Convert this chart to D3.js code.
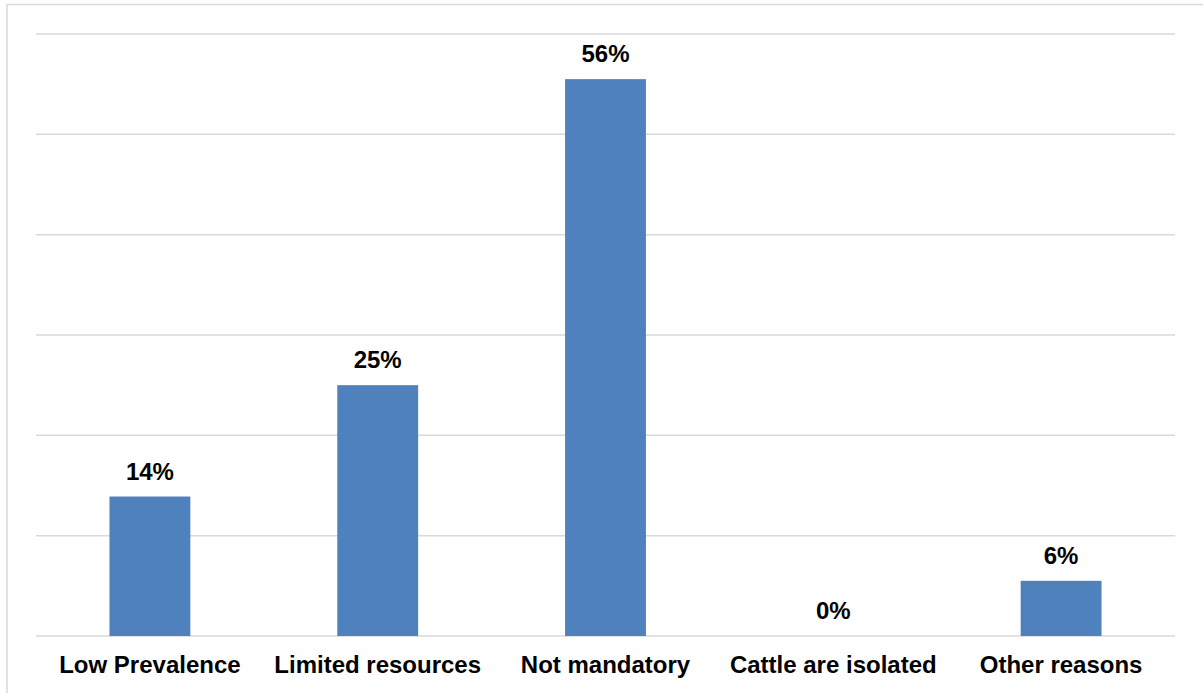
<!DOCTYPE html>
<html lang="en">

<head>
    <meta charset="UTF-8">
    <title>Reasons</title>
    <script src="https://d3js.org/d3.v7.min.js"></script>
    <style>
        body {
            margin: 0;
            background: white;
            font-family: "Liberation Sans", Arial, sans-serif;
        }

        svg {
            display: block;
        }
    </style>
</head>

<body>
    <svg width="1203" height="693"></svg>

    <script>
        // Data
        const categories = ["Low Prevalence", "Limited resources", "Not mandatory", "Cattle are isolated", "Other reasons"];
        const values = [13.9, 25.0, 55.5, 0, 5.5];
        const labels = ["14%", "25%", "56%", "0%", "6%"];
        const yTicks = [0, 10, 20, 30, 40, 50, 60];

        const data = categories.map((c, i) => ({ cat: c, value: values[i], label: labels[i] }));

        const svg = d3.select("svg");
        const margin = { top: 34, right: 28, bottom: 57, left: 36 },
            width = +svg.attr("width") - margin.left - margin.right,
            height = +svg.attr("height") - margin.top - margin.bottom;

        // chart frame (top and left edges visible)
        svg.append("path")
            .attr("d", "M7,700 L7,4.5 L1210,4.5")
            .attr("fill", "none")
            .attr("stroke", "#d9d9d9")
            .attr("stroke-width", 1.5);

        const g = svg.append("g").attr("transform", `translate(${margin.left},${margin.top})`);

        const x = d3.scaleBand()
            .domain(categories)
            .range([0, width])
            .paddingInner(0.645)
            .paddingOuter(0.3225);

        const y = d3.scaleLinear()
            .domain([0, 60])
            .range([height, 0]);

        // gridlines
        g.selectAll(".grid")
            .data(yTicks)
            .enter().append("line")
            .attr("x1", 0)
            .attr("x2", width)
            .attr("y1", d => y(d))
            .attr("y2", d => y(d))
            .attr("stroke", "#d9d9d9")
            .attr("stroke-width", 1.5);

        // bars
        g.selectAll(".bar")
            .data(data)
            .enter().append("rect")
            .attr("class", "bar")
            .attr("x", d => x(d.cat))
            .attr("y", d => y(d.value))
            .attr("width", x.bandwidth())
            .attr("height", d => height - y(d.value))
            .attr("fill", "#4f81bd");

        // value labels
        g.selectAll(".bar-label")
            .data(data)
            .enter().append("text")
            .attr("x", d => x(d.cat) + x.bandwidth() / 2)
            .attr("y", d => y(d.value) - 17)
            .attr("text-anchor", "middle")
            .attr("font-size", "24px")
            .attr("font-weight", "bold")
            .attr("fill", "#000")
            .text(d => d.label);

        // x axis labels
        const xAxis = g.append("g")
            .attr("transform", `translate(0,${height})`)
            .call(d3.axisBottom(x).tickSize(0).tickPadding(20));
        xAxis.select(".domain").remove();
        xAxis.selectAll("text")
            .attr("font-size", "24px")
            .attr("font-weight", "bold")
            .attr("font-family", "'Liberation Sans', Arial, sans-serif")
            .attr("fill", "#000");
    </script>
</body>

</html>
